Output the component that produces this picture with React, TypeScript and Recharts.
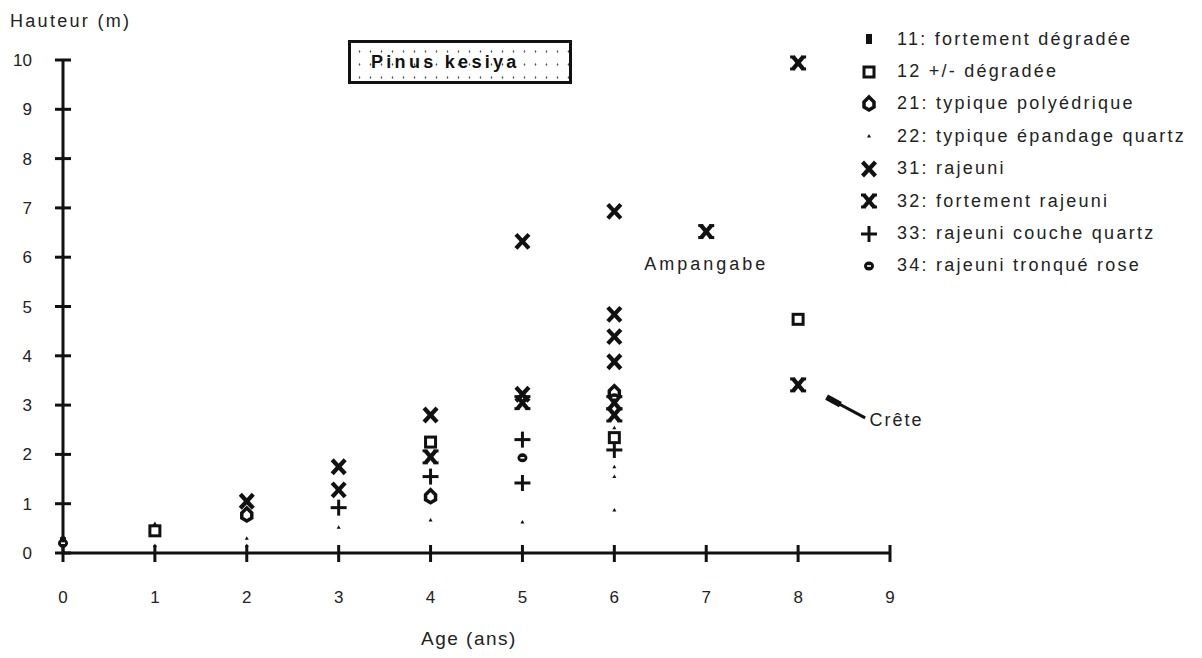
import React from 'react';
import { ScatterChart, Scatter, XAxis, YAxis, ReferenceDot, ReferenceLine } from 'recharts';

const xTicks = [0, 1, 2, 3, 4, 5, 6, 7, 8, 9];
const yTicks = [0, 1, 2, 3, 4, 5, 6, 7, 8, 9, 10];

// 11 .. 34 : types de sol
const fortDegradee = [{ age: 0, h: 0.22 }];
const moinsDegradee = [
  { age: 1, h: 0.45 }, { age: 4, h: 2.25 }, { age: 6, h: 2.34 }, { age: 8, h: 4.74 },
];
const polyedrique = [{ age: 2, h: 0.77 }, { age: 4, h: 1.14 }, { age: 6, h: 3.25 }];
const epandage = [
  { age: 0, h: 0.35 }, { age: 1, h: 0.15 }, { age: 1, h: 0.6 }, { age: 2, h: 0.3 },
  { age: 2, h: 0.15 }, { age: 3, h: 0.52 }, { age: 4, h: 0.67 }, { age: 5, h: 0.63 },
  { age: 6, h: 0.87 }, { age: 6, h: 1.55 }, { age: 6, h: 1.75 }, { age: 6, h: 2.54 },
];
const rajeuni = [
  { age: 2, h: 1.05 }, { age: 3, h: 1.75 }, { age: 3, h: 1.28 }, { age: 4, h: 2.8 },
  { age: 5, h: 6.32 }, { age: 5, h: 3.22 }, { age: 6, h: 6.93 }, { age: 6, h: 4.84 },
  { age: 6, h: 4.39 }, { age: 6, h: 3.88 },
];
const fortRajeuni = [
  { age: 4, h: 1.95 }, { age: 5, h: 3.05 }, { age: 6, h: 2.8 }, { age: 6, h: 3.05 },
  { age: 7, h: 6.52 }, { age: 8, h: 9.94 }, { age: 8, h: 3.41 },
];
const coucheQuartz = [
  { age: 3, h: 0.92 }, { age: 4, h: 1.55 }, { age: 5, h: 2.3 }, { age: 5, h: 1.42 }, { age: 6, h: 2.09 },
];
const tronqueRose = [{ age: 0, h: 0.2 }, { age: 5, h: 1.93 }, { age: 6, h: 3.15 }];

const FONT = '"Liberation Sans", Arial, sans-serif';
const INK = '#111';

type P = { cx?: number; cy?: number };

const M11 = ({ cx = 0, cy = 0 }: P) => <rect x={cx - 3} y={cy - 5} width={6} height={10} fill={INK} />;
const M12 = ({ cx = 0, cy = 0 }: P) => (
  <rect x={cx - 5} y={cy - 5} width={10} height={10} fill="none" stroke={INK} strokeWidth={3} />
);
const M21 = ({ cx = 0, cy = 0 }: P) => (
  <polygon
    points={`${cx},${cy - 7} ${cx + 5},${cy - 2} ${cx + 5},${cy + 3} ${cx},${cy + 6} ${cx - 5},${cy + 3} ${cx - 5},${cy - 2}`}
    fill="#fff" stroke={INK} strokeWidth={3.5}
  />
);
const M22 = ({ cx = 0, cy = 0 }: P) => (
  <polygon points={`${cx - 2},${cy + 1.5} ${cx + 2},${cy + 1.5} ${cx},${cy - 2}`} fill={INK} />
);
const M31 = ({ cx = 0, cy = 0 }: P) => (
  <g stroke={INK} strokeWidth={4.2}>
    <line x1={cx - 6.5} y1={cy - 7} x2={cx + 6.5} y2={cy + 7} />
    <line x1={cx - 6.5} y1={cy + 7} x2={cx + 6.5} y2={cy - 7} />
  </g>
);
const M32 = ({ cx = 0, cy = 0 }: P) => (
  <g stroke={INK} strokeWidth={4.2}>
    <line x1={cx - 5} y1={cy - 6} x2={cx + 5} y2={cy + 6} />
    <line x1={cx - 5} y1={cy + 6} x2={cx + 5} y2={cy - 6} />
    <g strokeWidth={3}>
      <line x1={cx - 8} y1={cy - 6} x2={cx - 3} y2={cy - 6} />
      <line x1={cx + 3} y1={cy - 6} x2={cx + 8} y2={cy - 6} />
      <line x1={cx - 8} y1={cy + 6} x2={cx - 3} y2={cy + 6} />
      <line x1={cx + 3} y1={cy + 6} x2={cx + 8} y2={cy + 6} />
    </g>
  </g>
);
const M33 = ({ cx = 0, cy = 0 }: P) => (
  <g stroke={INK} strokeWidth={3}>
    <line x1={cx - 8} y1={cy} x2={cx + 8} y2={cy} />
    <line x1={cx} y1={cy - 8} x2={cx} y2={cy + 8} />
  </g>
);
const M34 = ({ cx = 0, cy = 0 }: P) => (
  <g>
    <ellipse cx={cx} cy={cy} rx={5} ry={4.5} fill={INK} />
    <rect x={cx - 2} y={cy - 0.8} width={4} height={1.6} fill="#fff" />
  </g>
);

const series = [
  { name: '11:  fortement dégradée', data: fortDegradee, M: M11 },
  { name: '12  +/- dégradée', data: moinsDegradee, M: M12 },
  { name: '21: typique polyédrique', data: polyedrique, M: M21 },
  { name: '22: typique épandage quartz', data: epandage, M: M22 },
  { name: '31:  rajeuni', data: rajeuni, M: M31 },
  { name: '32: fortement rajeuni', data: fortRajeuni, M: M32 },
  { name: '33: rajeuni couche quartz', data: coucheQuartz, M: M33 },
  { name: '34: rajeuni tronqué rose', data: tronqueRose, M: M34 },
];

const YTick = ({ x, y, payload }: any) => (
  <g>
    <line x1={x - 8} x2={x + 8} y1={y} y2={y} stroke={INK} strokeWidth={3} />
    <text x={x - 31} y={y} dy={6} textAnchor="end" fontFamily={FONT} fontSize={17} fill="#222">
      {payload.value}
    </text>
  </g>
);

const XTick = ({ x, y, payload }: any) => (
  <g>
    <line x1={x} x2={x} y1={y - 8} y2={y + 9} stroke={INK} strokeWidth={3} />
    <text x={x} y={y + 50} textAnchor="middle" fontFamily={FONT} fontSize={17} fill="#222">
      {payload.value}
    </text>
  </g>
);

export default function App() {
  return (
    <div style={{ position: 'relative', width: 1186, height: 642, fontFamily: FONT, background: '#fff' }}>
      <ScatterChart width={1186} height={642} margin={{ top: 52, right: 304, bottom: 57, left: 5 }}>
        <XAxis
          dataKey="age" type="number" domain={[0, 9]} ticks={xTicks} height={40}
          axisLine={{ stroke: INK, strokeWidth: 3 }} tickLine={false} tickSize={0} tickMargin={0}
          tick={<XTick />} interval={0}
        />
        <YAxis
          dataKey="h" type="number" domain={[0, 10]} ticks={yTicks} width={50}
          axisLine={{ stroke: INK, strokeWidth: 3 }} tickLine={false} tickSize={0} tickMargin={0}
          tick={<YTick />} interval={0}
        />
        {series.map((s) => (
          <Scatter
            key={s.name} name={s.name} data={s.data} isAnimationActive={false}
            shape={(p: any) => <s.M cx={p.cx} cy={p.cy} />}
          />
        ))}
        <ReferenceDot
          x={7} y={5.88} r={0} ifOverflow="visible"
          label={{ value: 'Ampangabe', position: 'center', fontFamily: FONT, fontSize: 18, fill: '#222', letterSpacing: 3 }}
        />
        <ReferenceDot
          x={9.07} y={2.7} r={0} ifOverflow="visible"
          label={{ value: 'Crête', position: 'center', fontFamily: FONT, fontSize: 18, fill: '#222', letterSpacing: 2 }}
        />
        <ReferenceLine
          segment={[{ x: 8.31, y: 3.16 }, { x: 8.73, y: 2.74 }]}
          stroke={INK} strokeWidth={3} ifOverflow="visible"
        />
        <ReferenceLine
          segment={[{ x: 8.31, y: 3.16 }, { x: 8.46, y: 3.01 }]}
          stroke={INK} strokeWidth={6} ifOverflow="visible"
        />
      </ScatterChart>

      <div style={{ position: 'absolute', left: 2, top: 3, fontSize: 18, color: '#222', letterSpacing: 2.3 }}>
        Hauteur (m)
      </div>
      <div style={{ position: 'absolute', left: 413, top: 620, fontSize: 19, color: '#222', letterSpacing: 1.5 }}>
        Age (ans)
      </div>

      <div
        style={{
          position: 'absolute', left: 340, top: 32, width: 224, height: 44, boxSizing: 'border-box',
          border: '3px solid #111',
          backgroundImage: 'radial-gradient(#555 0.7px, transparent 1.1px)',
          backgroundSize: '11px 13px', backgroundPosition: '3px 2px',
          display: 'flex', alignItems: 'center', paddingLeft: 20,
        }}
      >
        <span style={{ fontWeight: 'bold', fontSize: 18, letterSpacing: 3.3, color: '#111' }}>
          Pinus kesiya
        </span>
      </div>

      <div style={{ position: 'absolute', left: 851, top: 15 }}>
        {series.map((s) => (
          <div key={s.name} style={{ display: 'flex', alignItems: 'center', height: 32.4 }}>
            <svg width={20} height={20} style={{ flex: 'none' }}>
              <s.M cx={10} cy={10} />
            </svg>
            <span style={{ marginLeft: 18, fontSize: 18, letterSpacing: 2.25, color: '#222', whiteSpace: 'nowrap' }}>
              {s.name}
            </span>
          </div>
        ))}
      </div>
    </div>
  );
}
